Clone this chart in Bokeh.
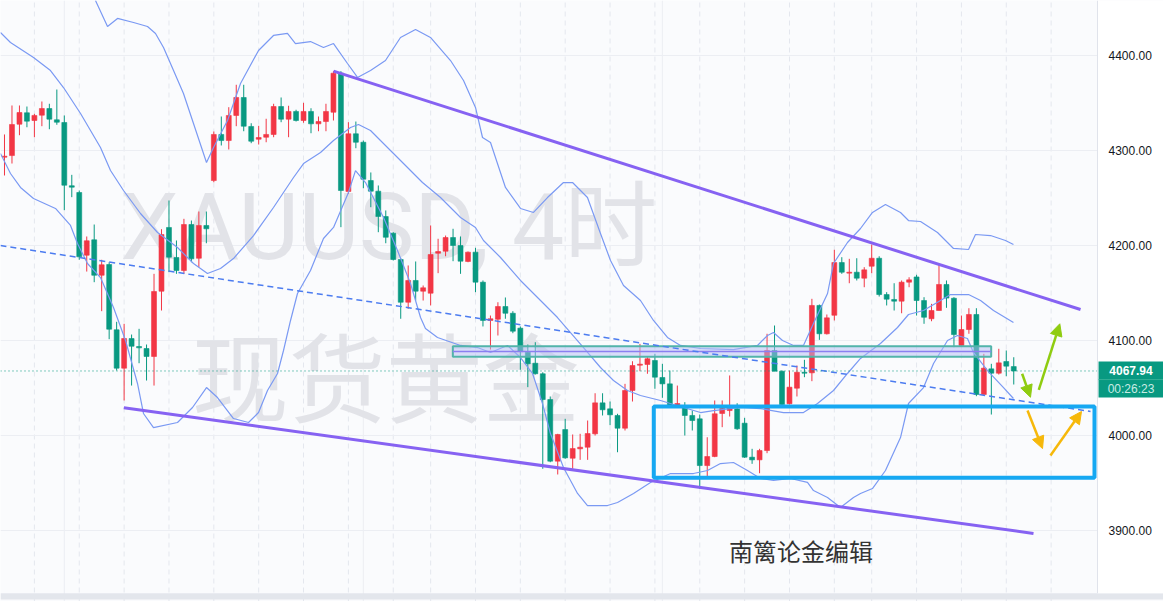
from bokeh.plotting import figure
from bokeh.models import (FixedTicker, Label, Arrow, NormalHead, ColumnDataSource, Range1d)
from bokeh.core.properties import value
from bokeh.embed import file_html
from bokeh.resources import INLINE

# ---------------- data (XAUUSD 4H) ----------------
opens = [4293.0, 4294.7, 4327.7, 4339.7, 4331.6, 4337.2, 4344.2, 4332.3, 4329.5, 4262.9,
         4255.8, 4189.8, 4206.0, 4168.7, 4180.0, 4111.3, 4070.9, 4102.1, 4093.7, 4091.6,
         4083.2, 4151.9, 4219.0, 4187.4, 4173.7, 4222.1, 4186.6, 4221.1, 4268.4, 4316.9,
         4310.5, 4336.9, 4355.8, 4325.3, 4311.9, 4314.0, 4316.9, 4346.3, 4333.0, 4341.1,
         4331.6, 4341.1, 4328.1, 4330.5, 4340.3, 4381.4, 4256.9, 4317.6, 4308.7, 4268.4,
         4257.2, 4230.5, 4213.0, 4185.3, 4140.3, 4163.2, 4151.9, 4149.8, 4191.9, 4194.0,
         4208.4, 4200.0, 4183.2, 4193.0, 4161.4, 4121.1, 4122.4, 4135.8, 4128.7, 4113.0,
         4087.7, 4076.1, 4065.0, 4037.9, 3973.0, 4006.3, 3976.1, 3986.0, 3987.7, 4001.8,
         4034.4, 4028.1, 4021.1, 4007.7, 4047.4, 4074.0, 4074.8, 4079.0, 4061.1, 4054.4,
         4030.5, 4029.2, 4021.1, 4017.6, 3968.4, 3977.9, 4023.2, 4026.3, 4028.1, 4013.0,
         3977.2, 3974.4, 3984.2, 4089.5, 4067.7, 4033.4, 4049.8, 4066.6, 4066.0, 4136.9,
         4107.1, 4126.6, 4182.1, 4170.9, 4171.9, 4165.6, 4178.2, 4186.6, 4148.4, 4143.2,
         4141.4, 4161.4, 4166.9, 4142.1, 4122.9, 4131.6, 4159.0, 4144.5, 4094.8, 4111.6,
         4127.4, 4043.2, 4070.2, 4065.6, 4077.9, 4072.6]
highs = [4316.9, 4347.4, 4347.4, 4346.3, 4338.6, 4351.6, 4349.2, 4364.2, 4336.9, 4274.4,
         4257.9, 4209.5, 4222.1, 4185.0, 4182.4, 4119.7, 4117.6, 4106.3, 4112.3, 4095.8,
         4170.2, 4217.2, 4247.4, 4205.3, 4228.1, 4226.3, 4235.8, 4235.8, 4320.0, 4335.8,
         4345.6, 4369.2, 4369.2, 4328.7, 4326.0, 4333.4, 4349.2, 4355.8, 4347.1, 4342.9,
         4350.2, 4344.5, 4335.8, 4349.2, 4383.5, 4383.5, 4329.8, 4330.5, 4310.5, 4276.9,
         4263.2, 4236.9, 4214.0, 4187.1, 4179.0, 4183.2, 4157.9, 4221.1, 4207.1, 4210.5,
         4217.6, 4209.5, 4193.7, 4197.6, 4163.2, 4126.3, 4140.3, 4145.3, 4130.9, 4114.8,
         4095.8, 4098.2, 4066.6, 4041.1, 4001.8, 4017.6, 4001.1, 4001.8, 4015.8, 4044.5,
         4044.5, 4035.8, 4022.9, 4054.4, 4078.2, 4096.5, 4082.4, 4086.0, 4075.5, 4068.4,
         4052.6, 4035.1, 4026.3, 4022.1, 3998.2, 4036.9, 4036.9, 4063.2, 4034.0, 4018.6,
         3986.0, 3986.0, 4107.1, 4115.8, 4068.4, 4068.4, 4073.7, 4079.7, 4143.9, 4137.9,
         4127.4, 4195.5, 4187.7, 4186.0, 4186.6, 4177.2, 4201.1, 4188.7, 4150.9, 4160.3,
         4163.2, 4166.6, 4169.2, 4145.6, 4138.6, 4179.7, 4163.2, 4145.6, 4126.3, 4134.0,
         4134.0, 4086.0, 4075.5, 4091.3, 4089.5, 4082.4]
lows = [4273.7, 4286.3, 4316.1, 4324.5, 4314.0, 4325.6, 4322.4, 4327.1, 4237.2, 4250.9,
        4185.0, 4172.6, 4161.4, 4130.9, 4101.4, 4068.4, 4036.9, 4052.6, 4076.1, 4057.9,
        4052.6, 4131.6, 4171.9, 4170.2, 4170.2, 4182.4, 4177.2, 4202.4, 4266.6, 4305.3,
        4301.1, 4325.6, 4320.3, 4307.7, 4306.3, 4308.7, 4314.0, 4329.8, 4314.0, 4330.5,
        4329.2, 4318.2, 4320.3, 4320.3, 4331.6, 4219.3, 4254.4, 4302.4, 4260.3, 4240.3,
        4214.0, 4202.4, 4184.2, 4122.9, 4133.4, 4142.1, 4142.1, 4136.9, 4170.9, 4188.7,
        4183.5, 4170.2, 4182.4, 4150.9, 4114.8, 4090.5, 4105.3, 4122.9, 4107.7, 4069.2,
        4050.9, 4064.2, 3965.0, 3971.9, 3959.0, 3975.5, 3965.0, 3974.4, 3974.4, 4000.0,
        4021.1, 4010.9, 3982.4, 4005.3, 4035.8, 4067.7, 4065.0, 4049.2, 4039.7, 4029.2,
        4030.5, 4000.0, 4005.3, 3943.9, 3956.9, 3977.2, 4008.8, 4020.0, 4006.0, 3976.5,
        3970.2, 3960.3, 3981.4, 4067.7, 4031.6, 4032.6, 4041.1, 4061.4, 4057.2, 4100.7,
        4106.3, 4121.1, 4170.2, 4160.3, 4163.2, 4156.1, 4170.9, 4146.3, 4136.9, 4131.6,
        4128.7, 4156.1, 4126.3, 4117.6, 4120.3, 4131.6, 4134.4, 4093.0, 4094.8, 4107.1,
        4041.4, 4043.2, 4022.1, 4064.2, 4062.4, 4053.7]
closes = [4294.0, 4327.4, 4340.0, 4330.9, 4336.9, 4344.2, 4333.0, 4329.8, 4263.5, 4261.4,
          4188.1, 4205.0, 4168.7, 4179.7, 4111.9, 4070.9, 4102.1, 4094.0, 4092.3, 4083.2,
          4151.6, 4211.6, 4187.7, 4173.7, 4222.1, 4186.0, 4221.1, 4217.6, 4316.9, 4310.5,
          4336.9, 4355.8, 4325.6, 4309.8, 4313.7, 4316.9, 4346.3, 4333.0, 4341.1, 4331.6,
          4341.1, 4328.1, 4330.5, 4341.1, 4381.4, 4257.9, 4317.6, 4308.7, 4269.8, 4257.2,
          4230.5, 4208.7, 4185.3, 4140.3, 4163.2, 4151.9, 4155.5, 4190.5, 4193.7, 4208.4,
          4200.0, 4183.5, 4193.0, 4161.4, 4121.1, 4122.9, 4135.8, 4128.7, 4109.8, 4088.7,
          4075.5, 4065.0, 4037.9, 3973.0, 4001.1, 3976.5, 3986.3, 3987.7, 4002.1, 4034.4,
          4027.1, 4021.8, 4007.7, 4047.4, 4073.7, 4075.1, 4080.8, 4061.4, 4054.4, 4030.5,
          4033.7, 4021.1, 4015.8, 3968.4, 3977.9, 4022.9, 4028.4, 4029.5, 4007.1, 3977.2,
          3974.4, 3984.2, 4089.5, 4067.7, 4032.6, 4050.9, 4066.6, 4065.6, 4136.9, 4107.1,
          4123.9, 4182.1, 4171.9, 4171.9, 4165.6, 4174.4, 4186.6, 4148.4, 4143.5, 4141.4,
          4161.4, 4163.9, 4142.1, 4124.5, 4131.6, 4159.0, 4144.7, 4106.3, 4111.6, 4127.4,
          4043.2, 4070.9, 4065.6, 4076.5, 4073.0, 4067.94]

# Bollinger bands (bar index, price)
upper_i = [12.17, 13.78, 15.12, 17.26, 19.13, 20.20, 21.27, 22.61, 23.94, 25.28, 27.02, 27.96,
           29.83, 31.57, 33.98, 35.98, 37.85, 38.92, 40.93, 42.67, 44.01, 45.88, 47.22, 48.96,
           50.96, 52.97, 54.98, 56.98, 59.66, 61.40, 63.00, 63.94, 65.01, 65.94, 67.01, 69.02,
           70.76, 72.63, 74.77, 75.98, 77.98, 79.72, 81.06, 82.80, 85.07, 86.81, 88.68, 90.42,
           93.10, 97.51, 100.72, 102.06, 102.86, 104.07, 105.54, 106.87, 108.21, 110.09, 110.89,
           112.76, 114.50, 116.10, 117.84, 119.85, 120.92, 122.53, 124.80, 126.14, 126.94,
           128.95, 129.88, 131.89, 133.89, 134.96]
upper_p = [4457.9, 4430.5, 4439.0, 4434.7, 4430.5, 4423.2, 4408.4, 4384.2, 4360.0, 4328.4, 4287.4,
           4303.2, 4331.6, 4370.5, 4405.3, 4421.1, 4423.2, 4412.6, 4414.7, 4408.4, 4412.6, 4391.6,
           4376.9, 4384.2, 4394.7, 4419.0, 4427.4, 4419.0, 4394.7, 4373.7, 4345.3, 4313.7, 4308.4,
           4286.3, 4261.1, 4239.0, 4234.8, 4250.5, 4266.3, 4266.3, 4250.5, 4212.6, 4184.2, 4157.9,
           4142.1, 4121.1, 4103.2, 4094.8, 4091.6, 4090.5, 4094.8, 4105.3, 4108.4, 4100.0, 4094.8,
           4094.8, 4117.9, 4149.5, 4181.1, 4203.2, 4217.9, 4234.8, 4243.2, 4234.8, 4226.3, 4225.3,
           4213.7, 4203.2, 4196.9, 4195.8, 4211.6, 4210.5, 4205.3, 4201.1]
mid_i = [-0.54, 0.80, 3.88, 6.15, 7.89, 10.17, 12.84, 14.18, 15.92, 18.19, 20.47, 23.14, 25.28,
         27.15, 28.89, 30.63, 33.31, 35.98, 38.66, 40.00, 42.27, 44.01, 46.28, 47.35, 48.96, 50.29,
         52.97, 55.91, 58.32, 61.00, 63.00, 64.07, 66.35, 69.02, 71.70, 73.97, 75.71, 77.45, 79.72,
         81.46, 83.33, 85.07, 87.75, 90.82, 93.10, 94.84, 98.45, 101.12, 104.20, 106.87, 108.75,
         110.89, 112.76, 114.50, 117.17, 119.45, 120.92, 122.93, 125.20, 126.54, 128.95, 130.56,
         132.29, 134.96]
mid_p = [4424.2, 4413.7, 4397.9, 4384.2, 4366.3, 4339.0, 4303.2, 4279.0, 4257.9, 4233.7, 4213.7,
         4197.9, 4181.1, 4170.5, 4175.8, 4186.3, 4210.5, 4240.0, 4271.6, 4286.3, 4297.9, 4310.5,
         4324.2, 4327.4, 4321.1, 4310.5, 4289.5, 4266.3, 4250.5, 4229.5, 4219.0, 4205.3, 4187.4,
         4163.2, 4142.1, 4124.2, 4108.4, 4092.6, 4071.6, 4057.9, 4047.4, 4042.1, 4036.9, 4029.5,
         4024.2, 4026.3, 4029.5, 4028.4, 4024.2, 4024.2, 4033.7, 4047.4, 4065.3, 4081.1, 4096.9,
         4113.7, 4127.4, 4131.6, 4142.1, 4148.4, 4148.4, 4142.1, 4131.6, 4119.0]
low_i = [-0.54, 0.80, 2.14, 3.88, 6.82, 8.83, 9.76, 11.10, 12.84, 14.58, 16.19, 17.79, 18.59,
         19.93, 23.14, 25.15, 27.02, 28.49, 30.63, 32.64, 33.98, 35.18, 36.52, 37.32, 38.26, 39.19,
         40.93, 42.67, 44.01, 46.01, 46.95, 48.29, 50.70, 52.57, 54.31, 55.65, 56.31, 57.92, 61.00,
         63.27, 65.01, 67.28, 69.02, 70.63, 71.96, 73.03, 74.77, 76.65, 77.98, 80.66, 82.00, 84.14,
         86.41, 89.09, 92.16, 94.03, 95.77, 97.51, 99.38, 101.12, 102.86, 105.14, 107.41, 108.21,
         110.09, 111.82, 113.56, 114.50, 116.10, 117.84, 119.85, 120.92, 122.93, 124.27, 126.14,
         127.47, 128.81, 129.61, 131.49, 133.63, 134.96]
low_p = [4296.9, 4275.8, 4261.1, 4249.5, 4239.0, 4221.1, 4202.1, 4181.1, 4166.3, 4134.7, 4100.0,
         4054.8, 4023.2, 4008.4, 4013.7, 4029.5, 4050.5, 4040.0, 4017.9, 4013.7, 4024.2, 4047.4,
         4065.3, 4089.5, 4121.1, 4149.5, 4173.7, 4207.4, 4219.0, 4255.8, 4278.9, 4266.3, 4229.5,
         4194.7, 4160.0, 4124.2, 4112.6, 4103.2, 4094.8, 4092.6, 4087.4, 4094.8, 4082.1, 4065.3,
         4033.7, 4002.1, 3966.3, 3939.0, 3926.3, 3926.3, 3929.5, 3939.0, 3950.6, 3960.0, 3960.0,
         3963.2, 3970.5, 3971.6, 3963.2, 3954.8, 3952.7, 3954.8, 3950.6, 3942.1, 3934.8, 3924.2,
         3934.8, 3939.0, 3944.2, 3963.2, 3997.9, 4033.7, 4050.5, 4075.8, 4100.0, 4105.3, 4102.1,
         4087.4, 4068.4, 4050.5, 4039.0]

# drawings (bar index, price)
upper_trend_i = [44.01, 143.93]
upper_trend_p = [4383.5, 4132.6]
lower_trend_i = [15.96, 137.64]
lower_trend_p = [4029.2, 3896.9]
dash_line_i = [-0.54, 145.27]
dash_line_p = [4200.0, 4025.3]
zone_i = [59.97, 131.98]
zone_p = [4082.9, 4094.0]
box_i = [86.85, 145.8]
box_p = [3955.5, 4030.6]
green_arrows = [(136.12, 4065.0, 137.24, 4040.3), (138.35, 4048.1, 141.16, 4117.6)]
yellow_arrows = [(136.84, 4026.3, 138.85, 3986.3), (139.91, 3979.0, 144.06, 4025.3)]
last_price = 4067.94
countdown = "00:26:23"
y_ticks = [3900, 4000, 4100, 4200, 4300, 4400]
y_tick_labels = [f"{t:.2f}" for t in y_ticks]
grid_dashed = [4, 10, 16, 22, 28, 34, 40, 46, 52, 57, 63, 69, 75, 81, 87, 93, 99, 105, 111,
               116, 122, 128, 134, 140]
grid_solid = [8, 48, 88]

# scale: bar index across the pane, price scale on the right-hand price axis
X0 = -0.535
PANE_END = 146.2          # where the plot pane ends and the price scale begins
X1 = 155.03
Y0, Y1 = 3825.3, 4457.9
TAG_LEFT = 146.34
TAG_MID_Y = [4077.9, 4058.9, 4040.0]   # top / divider / bottom of the price tag
LABEL_X = 147.67

UP, DOWN = "#f23645", "#089981"

p = figure(width=1163, height=601, x_range=Range1d(X0, X1), y_range=Range1d(Y0, Y1),
           output_backend="svg", toolbar_location=None, y_axis_location=None,
           x_axis_location=None, min_border_left=0, min_border_top=0, min_border_bottom=0,
           min_border_right=0, background_fill_color="#fafbfd", border_fill_color="#ffffff",
           outline_line_color=None)

p.xgrid.visible = False
p.ygrid.ticker = FixedTicker(ticks=y_ticks)
p.ygrid.grid_line_color = "#eceef3"

# vertical grid
p.segment(x0=grid_dashed, y0=Y0, x1=grid_dashed, y1=Y1, line_color="#e4e7ee",
          line_dash="5 4", line_width=1, level="underlay")
p.segment(x0=grid_solid, y0=Y0, x1=grid_solid, y1=Y1, line_color="#eceef3",
          line_width=1, level="underlay")

# watermark
p.add_layout(Label(x=51.4, y=4219.0, text="XAUUSD, 4时", text_align="center",
                   text_baseline="middle", text_font="Roboto, Noto Sans CJK SC",
                   text_font_size="93px", text_color="#e2e3e8", level="underlay"))
p.add_layout(Label(x=51.0, y=4066.0, text="现货黄金", text_align="center",
                   text_baseline="middle", text_font="Noto Sans CJK SC",
                   text_font_size="97px", text_color="#e2e3e8", level="underlay"))

# candles
idx = list(range(len(opens)))
colors = [UP if c >= o else DOWN for o, c in zip(opens, closes)]
src = ColumnDataSource(dict(
    x=idx, high=highs, low=lows,
    top=[max(o, c) for o, c in zip(opens, closes)],
    bottom=[min(o, c) for o, c in zip(opens, closes)],
    color=colors))
p.segment(x0="x", y0="high", x1="x", y1="low", line_color="color", line_width=1, source=src)
p.vbar(x="x", width=0.66, top="top", bottom="bottom", fill_color="color",
       line_color="color", line_width=0.6, source=src)

# bands
band_color = "#7a99f3"
p.line(upper_i, upper_p, line_color=band_color, line_width=1.2)
p.line(mid_i, mid_p, line_color=band_color, line_width=1.2)
p.line(low_i, low_p, line_color=band_color, line_width=1.2)

# zone rectangle
p.quad(left=zone_i[0], right=zone_i[1], bottom=zone_p[0], top=zone_p[1],
       fill_color="#b3bdf6", fill_alpha=0.5, line_color="#52b4aa", line_width=2)
p.segment(x0=zone_i[0], y0=sum(zone_p) / 2, x1=zone_i[1], y1=sum(zone_p) / 2,
          line_color="#8b7ff0", line_width=1.5)

# dashed trend
p.line(dash_line_i, dash_line_p, line_color="#4c7cf0", line_width=1.5, line_dash="6 4")

# channel lines
p.line(upper_trend_i, upper_trend_p, line_color="#8662f2", line_width=3)
p.line(lower_trend_i, lower_trend_p, line_color="#8662f2", line_width=3)

# big box
p.quad(left=box_i[0], right=box_i[1], bottom=box_p[0], top=box_p[1],
       fill_color=None, line_color="#16a8f2", line_width=4)

# arrows
for (xs, ys, xe, ye) in green_arrows:
    p.add_layout(Arrow(x_start=xs, y_start=ys, x_end=xe, y_end=ye, line_color="#8fcc10",
                       line_width=2.5, end=NormalHead(size=12, fill_color="#8fcc10",
                                                      line_color="#8fcc10")))
for (xs, ys, xe, ye) in yellow_arrows:
    p.add_layout(Arrow(x_start=xs, y_start=ys, x_end=xe, y_end=ye, line_color="#f6b80a",
                       line_width=2.5, end=NormalHead(size=12, fill_color="#f6b80a",
                                                      line_color="#f6b80a")))

# last price line
p.line([X0, PANE_END], [last_price, last_price], line_color="#089981",
       line_dash="1 3", line_width=1)

# editor note
p.add_layout(Label(x=106.54, y=3879.0, text="南篱论金编辑", text_align="center",
                   text_baseline="middle", text_font="Noto Sans CJK SC",
                   text_font_size="24px", text_color="#333333"))

# bottom strip
p.quad(left=X0, right=X1, bottom=3827.5, top=3834.0, fill_color="#e3e6ec", line_color=None)

# ---------- price scale ----------
p.quad(left=PANE_END, right=X1, bottom=3834.0, top=Y1, fill_color="#ffffff", line_color=None)
p.segment(x0=PANE_END, y0=3834.0, x1=PANE_END, y1=Y1, line_color="#e0e3eb", line_width=1)
p.text(x=[LABEL_X] * len(y_ticks), y=y_ticks, text=y_tick_labels, text_align="left",
       text_baseline="middle", text_font=value("Liberation Sans"), text_font_size="12px",
       text_color="#131722")
p.quad(left=TAG_LEFT, right=X1, bottom=TAG_MID_Y[1], top=TAG_MID_Y[0],
       fill_color="#089981", line_color=None)
p.quad(left=TAG_LEFT, right=X1, bottom=TAG_MID_Y[2], top=TAG_MID_Y[1],
       fill_color="#089981", line_color=None)
p.segment(x0=TAG_LEFT, y0=TAG_MID_Y[1], x1=X1, y1=TAG_MID_Y[1], line_color="#2fae95",
          line_width=1)
p.text(x=[(TAG_LEFT + X1) / 2], y=[last_price], text=[f"{last_price:.2f}"], text_align="center",
       text_baseline="middle", text_font=value("Liberation Sans"), text_font_style="bold",
       text_font_size="12px", text_color="#ffffff")
p.text(x=[(TAG_LEFT + X1) / 2], y=[(TAG_MID_Y[1] + TAG_MID_Y[2]) / 2], text=[countdown],
       text_align="center", text_baseline="middle", text_font=value("Liberation Sans"),
       text_font_size="12px", text_color="#c9ece4")

open("out.html", "w").write(file_html(p, INLINE))
